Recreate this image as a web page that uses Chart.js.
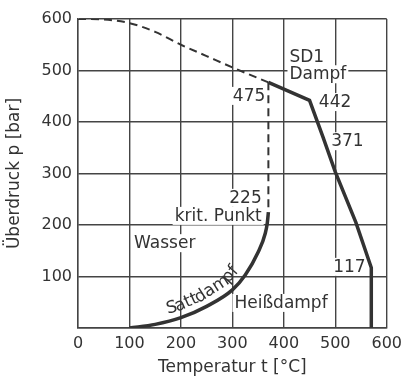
<!DOCTYPE html>
<html>
<head>
<meta charset="utf-8">
<script src="https://cdn.jsdelivr.net/npm/chart.js@4/dist/chart.umd.min.js"></script>
<style>
  html, body { margin: 0; padding: 0; background: #fff; }
  #wrap { width: 408px; height: 376px; }
</style>
</head>
<body>
<div id="wrap"><canvas id="steam"></canvas></div>
<script>
// Sattdampfkurve (Temperatur °C / Druck bar)
const satTemp = [100, 150, 200, 250, 300, 325, 350, 364, 368, 370];
const satPress = [0, 7, 20, 42, 74, 103, 147, 184, 205, 225];

// gestrichelte Grenze bis zum kritischen Punkt
const dashTemp = [0, 50, 100, 150, 200, 250, 300, 370];
const dashPress = [600, 599, 592, 575, 550, 528, 506, 477];
const critTemp = [370, 370];
const critPress = [477, 225];

// Grenzlinie SD1 Dampf
const sdTemp = [370, 450, 476, 500, 540, 570, 570];
const sdPress = [477, 442, 371, 303, 205, 117, 0];

const tickValues = [0, 100, 200, 300, 400, 500, 600];

const ink = "#333";
const font = "'DejaVu Sans', sans-serif";

// Beschriftungen im Diagramm: text, t, p, align
const labels = [
  ["SD1", 411, 516, "left"],
  ["Dampf", 411, 483, "left"],
  ["475", 364, 441, "right"],
  ["442", 468, 429, "left"],
  ["371", 492, 353, "left"],
  ["225", 357, 243, "right"],
  ["krit. Punkt", 357, 208, "right"],
  ["Wasser", 109, 155, "left"],
  ["117", 559, 109, "right"],
  ["Heißdampf", 304, 39, "left"],
];

function toPts(xs, ys) {
  return xs.map((x, i) => ({ x: x, y: ys[i] }));
}

const labelPlugin = {
  id: "labels",
  beforeDatasetsDraw(chart) {
    const ctx = chart.ctx;
    const sx = chart.scales.x, sy = chart.scales.y;
    ctx.save();
    ctx.font = "17px " + font;
    ctx.textBaseline = "alphabetic";
    labels.forEach((l) => {
      const px = sx.getPixelForValue(l[1]);
      const py = sy.getPixelForValue(l[2]);
      const w = ctx.measureText(l[0]).width;
      const x0 = l[3] === "right" ? px - w : px;
      ctx.fillStyle = "#fff";
      ctx.fillRect(x0 - 2, py - 14, w + 4, 18);
      ctx.fillStyle = ink;
      ctx.textAlign = "left";
      ctx.fillText(l[0], x0, py);
    });
    ctx.restore();
  },
  afterDatasetsDraw(chart) {
    // "Sattdampf" entlang der Kurve
    const pts = chart.getDatasetMeta(0).data.map((p) => ({ x: p.x, y: p.y }));
    const ctx = chart.ctx;
    ctx.save();
    ctx.font = "17px " + font;
    ctx.fillStyle = ink;
    ctx.textAlign = "center";
    ctx.textBaseline = "alphabetic";
    const segs = [];
    let total = 0;
    for (let i = 1; i < pts.length; i++) {
      const dx = pts[i].x - pts[i - 1].x, dy = pts[i].y - pts[i - 1].y;
      const len = Math.hypot(dx, dy);
      segs.push({ a: pts[i - 1], dx: dx, dy: dy, len: len, s: total });
      total += len;
    }
    const startX = chart.scales.x.getPixelForValue(178);
    let s = 0;
    for (const sg of segs) {
      if (sg.a.x + sg.dx >= startX) { s = sg.s + ((startX - sg.a.x) / sg.dx) * sg.len; break; }
    }
    const text = "Sattdampf";
    for (const ch of text) {
      const w = ctx.measureText(ch).width;
      const mid = s + w / 2;
      let sg = segs[segs.length - 1];
      for (const g of segs) { if (mid <= g.s + g.len) { sg = g; break; } }
      const t = (mid - sg.s) / sg.len;
      const ux = sg.dx / sg.len, uy = sg.dy / sg.len;
      const x = sg.a.x + sg.dx * t + uy * 7;
      const y = sg.a.y + sg.dy * t - ux * 7;
      ctx.save();
      ctx.translate(x, y);
      ctx.rotate(Math.atan2(sg.dy, sg.dx));
      ctx.fillText(ch, 0, 0);
      ctx.restore();
      s += w;
    }
    ctx.restore();
  },
};

new Chart(document.getElementById("steam"), {
  type: "scatter",
  data: {
    datasets: [
      {
        data: toPts(satTemp, satPress),
        showLine: true,
        borderColor: ink,
        borderWidth: 3.5,
        pointRadius: 0,
        cubicInterpolationMode: "monotone",
      },
      {
        data: toPts(dashTemp, dashPress),
        showLine: true,
        borderColor: ink,
        borderWidth: 2,
        borderDash: [8, 5],
        pointRadius: 0,
        cubicInterpolationMode: "monotone",
      },
      {
        data: toPts(critTemp, critPress),
        showLine: true,
        borderColor: ink,
        borderWidth: 2,
        borderDash: [8, 5],
        pointRadius: 0,
      },
      {
        data: toPts(sdTemp, sdPress),
        showLine: true,
        borderColor: ink,
        borderWidth: 3.5,
        pointRadius: 0,
      },
    ],
  },
  options: {
    responsive: true,
    maintainAspectRatio: false,
    animation: false,
    layout: { padding: { top: 19, right: 16, left: 0, bottom: 0 } },
    plugins: { legend: { display: false }, tooltip: { enabled: false } },
    scales: {
      x: {
        type: "linear",
        min: 0,
        max: 600,
        afterBuildTicks: (s) => { s.ticks = tickValues.map((v) => ({ value: v })); },
        afterFit: (s) => { s.height = 48; },
        ticks: { color: ink, padding: 6, font: { family: font, size: 16 } },
        grid: { color: "#444", lineWidth: 1.4, drawTicks: false },
        border: { color: "#444", width: 1.4 },
        title: {
          display: true,
          text: "Temperatur t [°C]",
          color: ink,
          padding: { top: 0, bottom: 0 },
          font: { family: font, size: 17, lineHeight: 1 },
        },
      },
      y: {
        type: "linear",
        min: 0,
        max: 600,
        afterBuildTicks: (s) => { s.ticks = tickValues.map((v) => ({ value: v })); },
        afterFit: (s) => { s.width = 78; },
        ticks: {
          color: ink,
          padding: 6,
          font: { family: font, size: 16 },
          callback: (v) => (v === 0 ? "" : v),
        },
        grid: { color: "#444", lineWidth: 1.4, drawTicks: false },
        border: { color: "#444", width: 1.4 },
        title: {
          display: true,
          text: "Überdruck p [bar]",
          color: ink,
          padding: { top: 6, bottom: 0 },
          font: { family: font, size: 17, lineHeight: 1 },
        },
      },
    },
  },
  plugins: [labelPlugin],
});
</script>
</body>
</html>
